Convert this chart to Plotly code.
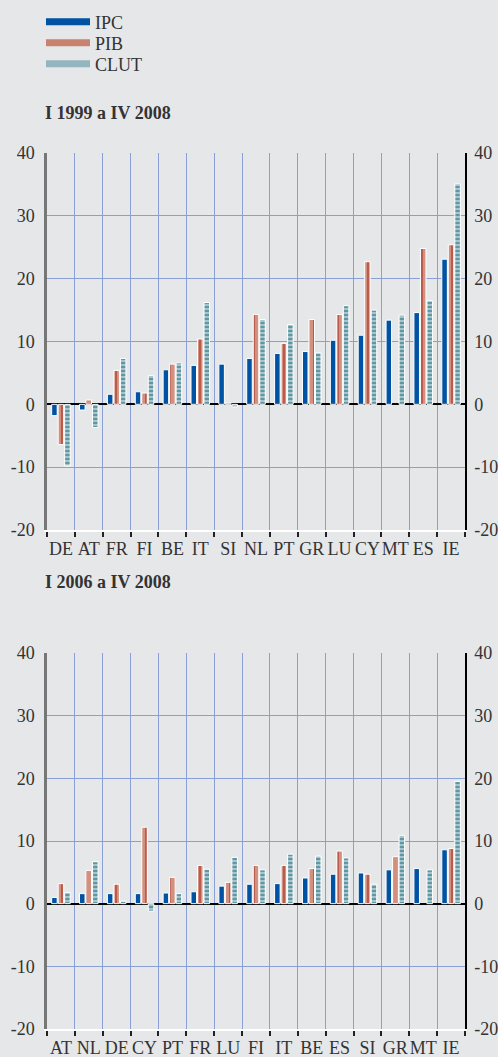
import plotly.graph_objects as go

# Panel 1: I 1999 a IV 2008
CTRY_A = ["DE", "AT", "FR", "FI", "BE", "IT", "SI", "NL", "PT", "GR", "LU", "CY", "MT", "ES", "IE"]
IPC_A = [-1.8, -0.9, 1.6, 2.0, 5.5, 6.2, 6.4, 7.3, 8.1, 8.4, 10.2, 11.0, 13.4, 14.6, 23.1]
PIB_A = [-6.4, 0.7, 5.4, 1.8, 6.4, 10.4, 0.2, 14.3, 9.7, 13.5, 14.3, 22.7, None, 24.8, 25.4]
CLUT_A = [-9.8, -3.7, 7.3, 4.6, 6.6, 16.2, -0.4, 13.5, 12.7, 8.2, 15.7, 15.0, 14.2, 16.5, 35.1]

# Panel 2: I 2006 a IV 2008
CTRY_B = ["AT", "NL", "DE", "CY", "PT", "FR", "LU", "FI", "IT", "BE", "ES", "SI", "GR", "MT", "IE"]
IPC_B = [1.0, 1.6, 1.6, 1.6, 1.7, 1.9, 2.8, 3.1, 3.2, 4.1, 4.7, 4.9, 5.4, 5.6, 8.6]
PIB_B = [3.2, 5.3, 3.1, 12.2, 4.2, 6.1, 3.4, 6.1, 6.1, 5.6, 8.4, 4.7, 7.5, None, 8.8]
CLUT_B = [1.8, 6.7, 0.4, -1.2, 1.6, 5.5, 7.4, 5.4, 7.9, 7.6, 7.3, 3.1, 10.9, 5.4, 19.5]

SERIES = ["IPC", "PIB", "CLUT"]
TITLES = ["I 1999 a IV 2008", "I 2006 a IV 2008"]
Y_TICKS = [-20, -10, 0, 10, 20, 30, 40]
Y_LABELS = ["-20", "-10", "0", "10", "20", "30", "40"]

BG = "#E6E7E9"
GRID = "#8A9FD8"
TXT = "#333333"
FONT = "Liberation Serif"

IPC_C = "#0052A3"
PIB_BG, PIB_FG = "#D4907E", "#A8382A"
CLUT_BG, CLUT_FG = "#A9C3CB", "#3F8595"

W, H = 498, 1057
def px_x(p):
    return p / W
def px_y(p):
    return 1 - p / H

fig = go.Figure()


def add_panel(cats, ipc, pib, clut, xa, ya):
    common = dict(x=cats, xaxis=xa, yaxis=ya, showlegend=False,
                  marker_line=dict(color="white", width=1))
    fig.add_trace(go.Bar(y=ipc, name="IPC", marker_color=IPC_C, **common))
    fig.add_trace(go.Bar(y=pib, name="PIB", marker_color=PIB_BG,
                         marker_pattern=dict(shape="|", fgcolor=PIB_FG, bgcolor=PIB_BG,
                                             size=6, solidity=0.2), **common))
    fig.add_trace(go.Bar(y=clut, name="CLUT", marker_color=CLUT_BG,
                         marker_pattern=dict(shape="-", fgcolor=CLUT_FG, bgcolor=CLUT_BG,
                                             size=4, solidity=0.35), **common))


add_panel(CTRY_A, IPC_A, PIB_A, CLUT_A, "x", "y")
add_panel(CTRY_B, IPC_B, PIB_B, CLUT_B, "x2", "y2")

# legend entries (wide swatches), one small legend per row;
# they also keep the right-hand axes drawn
LEG_IDS = ["legend", "legend2", "legend3"]
for name, col, lid in zip(SERIES, [IPC_C, "#C9826F", "#93B5BF"], LEG_IDS):
    fig.add_trace(go.Scatter(x=[None], y=[None], mode="lines", name=name, legend=lid,
                             line=dict(color=col, width=7), xaxis="x", yaxis="y3"))
fig.add_trace(go.Scatter(x=[None], y=[None], mode="lines", showlegend=False,
                         xaxis="x2", yaxis="y4"))

XDOM = [px_x(47), px_x(465)]
ytick = dict(range=[-20, 40], tickmode="array", tickvals=Y_TICKS, ticktext=Y_LABELS,
             ticks="", tickfont=dict(family=FONT, size=18, color=TXT),
             automargin=False, fixedrange=True)
yax = dict(ytick, showgrid=True, gridcolor=GRID, gridwidth=1,
           zeroline=True, zerolinecolor="black", zerolinewidth=2,
           showline=True, linecolor="#777777", linewidth=2.5, ticklabelstandoff=6)
yax_r = dict(ytick, showgrid=False, zeroline=False, side="right",
             showline=True, linecolor="black", linewidth=1.5, ticklabelstandoff=4)
xax = dict(type="category", domain=XDOM, showgrid=True, gridcolor=GRID, gridwidth=1,
           tickson="boundaries", ticks="outside", ticklen=5, tickwidth=1.5,
           tickcolor="#222222", showline=True, linecolor="white", linewidth=2,
           tickangle=0, tickfont=dict(family=FONT, size=18, color=TXT),
           ticklabelstandoff=1, automargin=False, fixedrange=True)

DOM_A = [px_y(530), px_y(153)]
DOM_B = [px_y(1029), px_y(653)]

leg = dict(x=px_x(41), xanchor="left", yanchor="middle", bgcolor="rgba(0,0,0,0)",
           font=dict(family=FONT, size=18, color=TXT), itemwidth=44)

fig.update_layout(
    template="none",
    width=W, height=H,
    paper_bgcolor=BG, plot_bgcolor=BG,
    margin=dict(l=0, r=0, t=0, b=0),
    barmode="group", bargap=0.3, bargroupgap=0.15,
    xaxis=dict(xax, anchor="y"),
    xaxis2=dict(xax, anchor="y2"),
    yaxis=dict(yax, domain=DOM_A, anchor="x"),
    yaxis2=dict(yax, domain=DOM_B, anchor="x2"),
    yaxis3=dict(yax_r, overlaying="y", anchor="x"),
    yaxis4=dict(yax_r, overlaying="y2", anchor="x2"),
    legend=dict(leg, y=px_y(22)),
    legend2=dict(leg, y=px_y(43)),
    legend3=dict(leg, y=px_y(64)),
    annotations=[
        dict(text="<b>%s</b>" % TITLES[0], x=px_x(43), y=px_y(113), xref="paper", yref="paper",
             xanchor="left", yanchor="middle", showarrow=False,
             font=dict(family=FONT, size=18, color=TXT)),
        dict(text="<b>%s</b>" % TITLES[1], x=px_x(43), y=px_y(582), xref="paper", yref="paper",
             xanchor="left", yanchor="middle", showarrow=False,
             font=dict(family=FONT, size=18, color=TXT)),
    ],
)

fig.write_html("out.html", config={"displayModeBar": False},
               post_script="document.body.style.margin='0';")
